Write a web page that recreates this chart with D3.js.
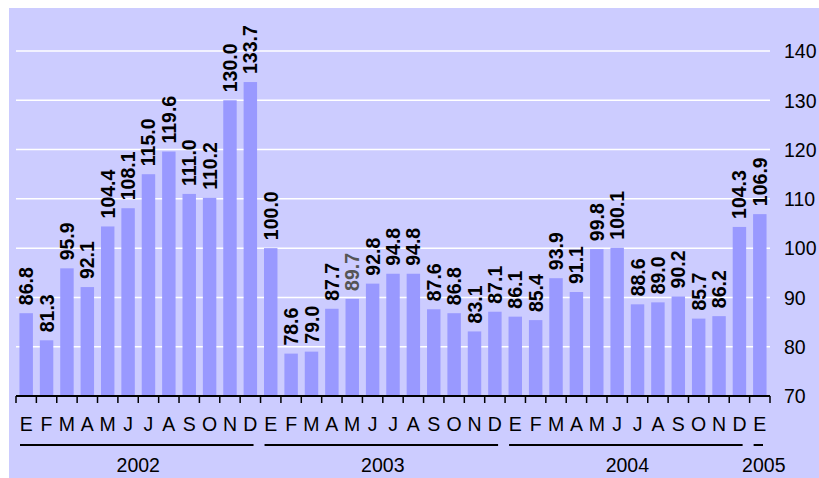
<!DOCTYPE html>
<html>
<head>
<meta charset="utf-8">
<script src="https://cdn.jsdelivr.net/npm/d3@7/dist/d3.min.js"></script>
<style>
  html, body { margin: 0; padding: 0; background: #ffffff; }
  svg { display: block; }
  text { font-family: "Liberation Sans", Arial, sans-serif; }
</style>
</head>
<body>
<svg id="chart" width="819" height="478"></svg>
<script>
// ---- data ----
const monthLabels = ["E","F","M","A","M","J","J","A","S","O","N","D"];
const years = ["2002","2003","2004","2005"];
const values2002 = [86.8, 81.3, 95.9, 92.1, 104.4, 108.1, 115.0, 119.6, 111.0, 110.2, 130.0, 133.7];
const values2003 = [100.0, 78.6, 79.0, 87.7, 89.7, 92.8, 94.8, 94.8, 87.6, 86.8, 83.1, 87.1];
const values2004 = [86.1, 85.4, 93.9, 91.1, 99.8, 100.1, 88.6, 89.0, 90.2, 85.7, 86.2, 104.3];
const values2005 = [106.9];
const yTicks = [70, 80, 90, 100, 110, 120, 130, 140];

const seriesByYear = [values2002, values2003, values2004, values2005];

const data = [];
seriesByYear.forEach((vals, yi) => {
  vals.forEach((v, mi) => {
    data.push({ key: data.length, year: years[yi], month: monthLabels[mi], value: v });
  });
});

// ---- layout ----
const svg = d3.select("#chart");
const W = 819, H = 478;
const plotLeft = 16, plotRight = 770, plotTop = 51, plotBottom = 396;
const FS = 19.5;

svg.append("rect").attr("x", 9).attr("y", 8).attr("width", W - 9).attr("height", H - 8)
  .attr("fill", "#CCCCFF");

const pad = 0.34;
const x = d3.scaleBand()
  .domain(data.map(d => d.key))
  .range([plotLeft, plotRight])
  .paddingInner(pad)
  .paddingOuter(pad / 2);
const step = x.step();

const y = d3.scaleLinear().domain([70, 140]).range([plotBottom, plotTop]);

// gridlines
svg.append("g").selectAll("line").data(yTicks.filter(t => t > 70)).join("line")
  .attr("x1", plotLeft).attr("x2", plotRight)
  .attr("y1", d => y(d)).attr("y2", d => y(d))
  .attr("stroke", "#ffffff").attr("stroke-width", 1.5);

// right axis labels
const yAxis = d3.axisRight(y).tickValues(yTicks).tickSize(0).tickPadding(0).tickFormat(d3.format("d"));
const gy = svg.append("g").attr("transform", `translate(784,0)`).call(yAxis);
gy.select(".domain").remove();
gy.selectAll("text").attr("font-size", FS).attr("fill", "#000").attr("font-family", "Liberation Sans, Arial, sans-serif")
  .attr("x", 0).attr("dy", "0.35em");

// bars
svg.append("g").selectAll("rect").data(data).join("rect")
  .attr("x", d => x(d.key))
  .attr("width", x.bandwidth())
  .attr("y", d => y(d.value))
  .attr("height", d => y(70) - y(d.value))
  .attr("fill", "#9999FF");

// value labels (rotated)
const grayLabelKey = 16;
svg.append("g").selectAll("text").data(data).join("text")
  .attr("transform", d => `translate(${x(d.key) + x.bandwidth() / 2},${y(d.value) - 8}) rotate(-90)`)
  .attr("text-anchor", "start")
  .attr("dy", "0.36em")
  .attr("font-size", FS)
  .attr("font-weight", "bold")
  .attr("fill", d => d.key === grayLabelKey ? "#555555" : "#000000")
  .text(d => d3.format(".1f")(d.value));

// baseline axis
svg.append("line").attr("x1", plotLeft).attr("x2", plotRight)
  .attr("y1", plotBottom).attr("y2", plotBottom)
  .attr("stroke", "#000").attr("stroke-width", 2);

// ticks at band boundaries
const boundaries = d3.range(data.length + 1).map(i => plotLeft + i * step);
svg.append("g").selectAll("line").data(boundaries).join("line")
  .attr("x1", d => d).attr("x2", d => d)
  .attr("y1", plotBottom).attr("y2", plotBottom + 7)
  .attr("stroke", "#000").attr("stroke-width", 1.5);

// month labels
svg.append("g").selectAll("text").data(data).join("text")
  .attr("x", d => x(d.key) + x.bandwidth() / 2)
  .attr("y", 431)
  .attr("text-anchor", "middle")
  .attr("font-size", FS)
  .attr("fill", "#000")
  .text(d => d.month);

// year groups
const groups = years.map(yr => {
  const items = data.filter(d => d.year === yr);
  const start = plotLeft + items[0].key * step;
  const end = plotLeft + (items[items.length - 1].key + 1) * step;
  return { year: yr, start, end };
});
svg.append("g").selectAll("line").data(groups).join("line")
  .attr("x1", d => d.start + 4).attr("x2", d => d.end - 7)
  .attr("y1", 445).attr("y2", 445)
  .attr("stroke", "#000").attr("stroke-width", 2);

svg.append("g").selectAll("text").data(groups).join("text")
  .attr("x", d => {
    const c = (d.start + d.end) / 2;
    return d.end >= plotRight - 1 ? Math.min(c + 4, 764) : c;
  })
  .attr("y", 472)
  .attr("text-anchor", "middle")
  .attr("font-size", FS)
  .attr("fill", "#000")
  .text(d => d.year);
</script>
</body>
</html>
